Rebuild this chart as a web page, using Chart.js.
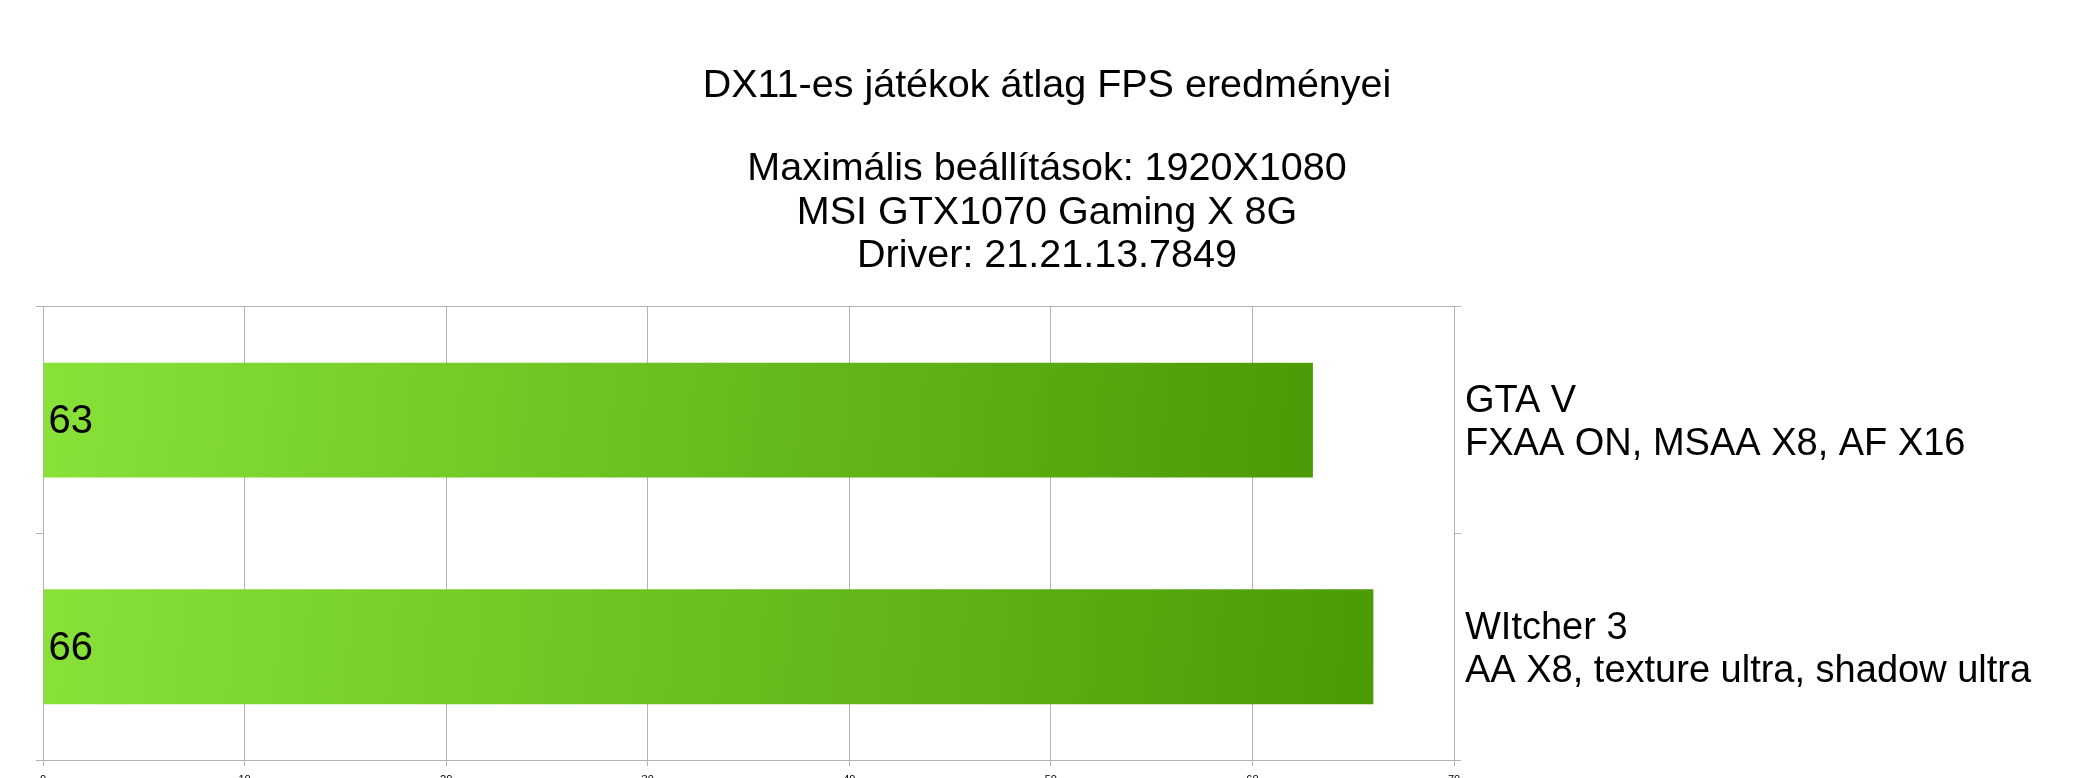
<!DOCTYPE html>
<html>
<head>
<meta charset="utf-8">
<script src="https://cdn.jsdelivr.net/npm/chart.js@4/dist/chart.umd.min.js"></script>
<style>
  html, body { margin: 0; padding: 0; background: #fff; overflow: hidden; }
  #wrap { width: 2094px; height: 778px; position: relative; }
</style>
</head>
<body>
<div id="wrap"><canvas id="stats"></canvas></div>
<script>
const games = ['GTA V', 'WItcher 3'];
const settings = ['FXAA ON, MSAA X8, AF X16', 'AA X8, texture ultra, shadow ultra'];
const fps = [63, 66];
const titleText = 'DX11-es játékok átlag FPS eredményei';
const subtitleLines = [
  'Maximális beállítások: 1920X1080',
  'MSI GTX1070 Gaming X 8G',
  'Driver: 21.21.13.7849',
];

const FONT = '"Liberation Sans", Arial, sans-serif';
const GRID = '#b3b3b3';
const BAR_SHARE = 0.507;

// middle category boundary only shows as a tick, not across the plot
const boundaryColor = (c) => (c.index === 1 ? 'rgba(0,0,0,0)' : GRID);

const barFill = (c) => {
  const { x, y } = c.chart.scales;
  if (!x || !y || c.type !== 'data') return '#6cc323';
  const left = x.getPixelForValue(0);
  const right = x.getPixelForValue(c.raw);
  const mid = y.getPixelForValue(c.dataIndex);
  const half = (y.height / games.length) * BAR_SHARE / 2;
  if (![left, right, mid, half].every(Number.isFinite)) return '#6cc323';
  const g = c.chart.ctx.createLinearGradient(left, mid - half, right, mid + half);
  g.addColorStop(0, '#88e238');
  g.addColorStop(1, '#4c9a06');
  return g;
};

const valueLabels = {
  id: 'valueLabels',
  afterDatasetsDraw(chart) {
    const { ctx } = chart;
    ctx.save();
    ctx.font = `40px ${FONT}`;
    ctx.fillStyle = '#000';
    ctx.textAlign = 'left';
    ctx.textBaseline = 'middle';
    chart.getDatasetMeta(0).data.forEach((bar, i) => {
      ctx.fillText(String(fps[i]), bar.base + 5, bar.y + 2);
    });
    ctx.restore();
  },
};

// no extra room above/below for the label heights
const noLabelPadding = (scale) => {
  scale.paddingTop = 0;
  scale.paddingBottom = 0;
};

new Chart(document.getElementById('stats'), {
  type: 'bar',
  plugins: [valueLabels],
  data: {
    labels: games.map((g, i) => [g, settings[i]]),
    datasets: [{
      data: fps,
      backgroundColor: barFill,
      borderWidth: 0,
      categoryPercentage: 1,
      barPercentage: BAR_SHARE,
    }],
  },
  options: {
    indexAxis: 'y',
    responsive: true,
    maintainAspectRatio: false,
    animation: false,
    layout: { padding: 0 },
    plugins: {
      legend: { display: false },
      tooltip: { enabled: false },
      title: {
        display: true,
        text: titleText,
        color: '#000',
        font: { family: FONT, size: 39.5, weight: 'normal', lineHeight: 1.1 },
        padding: { top: 64, bottom: 40 },
      },
      subtitle: {
        display: true,
        text: subtitleLines,
        color: '#000',
        font: { family: FONT, size: 39.5, weight: 'normal', lineHeight: 1.1 },
        padding: { top: 0, bottom: 29 },
      },
    },
    scales: {
      x: {
        min: 0,
        max: 70,
        ticks: {
          stepSize: 10,
          color: '#000',
          padding: 7,
          font: { family: FONT, size: 11 },
        },
        grid: { color: GRID, tickLength: 6, tickColor: GRID },
        border: { color: GRID },
        afterFit(scale) { scale.height = 18; },
      },
      y: {
        position: 'right',
        offset: true,
        ticks: {
          color: '#000',
          padding: 4,
          labelOffset: 3,
          font: { family: FONT, size: 38, lineHeight: 1.14 },
        },
        grid: { offset: true, color: boundaryColor, tickColor: GRID, tickLength: 7 },
        border: { color: GRID },
        afterFit(scale) {
          scale.width = 640;
          noLabelPadding(scale);
        },
      },
      yl: {
        type: 'category',
        position: 'left',
        offset: true,
        ticks: { display: false },
        grid: { offset: true, drawOnChartArea: false, tickColor: GRID, tickLength: 7 },
        border: { color: GRID },
        afterFit(scale) {
          scale.width = 43;
          noLabelPadding(scale);
        },
      },
    },
  },
});
</script>
</body>
</html>
